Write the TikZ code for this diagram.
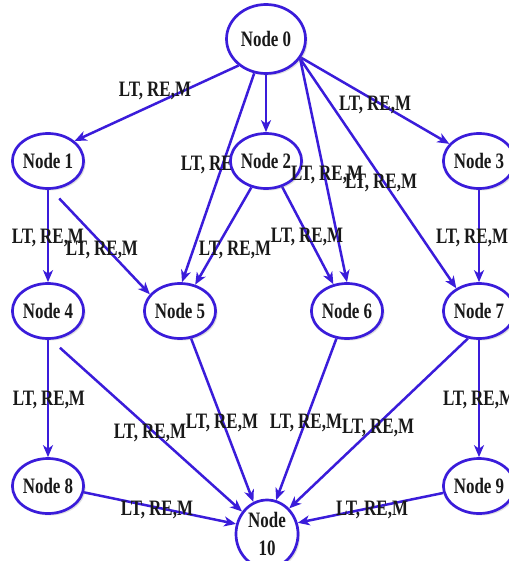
\documentclass[tikz,border=0pt]{standalone}
\usepackage{fontspec}
\setmainfont{Liberation Serif}
\usetikzlibrary{arrows.meta,shapes.geometric,shadows}
\definecolor{edgeblue}{RGB}{58,28,218}
\pgfdeclarelayer{bg}
\pgfdeclarelayer{mid}
\pgfsetlayers{bg,mid,main}
\newcommand\tx[1]{\scalebox{0.77}[1]{#1}}
\begin{document}
\begin{tikzpicture}[x=1pt,y=-1pt,
  gnode/.style={ellipse, draw=edgeblue, line width=2.7pt, fill=white,
    minimum width=63pt, minimum height=55pt, inner sep=0pt,
    font=\fontsize{22}{28}\selectfont\bfseries, text=black!90, align=center,
    drop shadow={opacity=0.25, shadow xshift=2pt, shadow yshift=-2pt, fill=gray}},
  conn/.style={draw=edgeblue, line width=2.5pt, -{Stealth[length=12pt,width=10pt,inset=3.5pt]}},
  lab/.style={font=\fontsize{22}{24}\selectfont\bfseries, text=black!90, inner sep=0pt},
]
\useasboundingbox (0,0) rectangle (508,561);
% nodes
\node[gnode, minimum width=79pt, minimum height=69pt] (n0) at (266,39) {\tx{Node 0}};
\node[gnode] (n1) at (48,161) {\tx{Node 1}};
\node[gnode] (n2) at (266,161) {\tx{Node 2}};
\node[gnode] (n3) at (479,161) {\tx{Node 3}};
\node[gnode] (n4) at (48,311) {\tx{Node 4}};
\node[gnode] (n5) at (180,311) {\tx{Node 5}};
\node[gnode] (n6) at (347,311) {\tx{Node 6}};
\node[gnode] (n7) at (479,311) {\tx{Node 7}};
\node[gnode] (n8) at (48,486) {\tx{Node 8}};
\node[gnode] (n9) at (479,486) {\tx{Node 9}};
\node[gnode, minimum width=62pt, minimum height=68pt] (n10) at (267,534) {\tx{Node}\\\tx{10}};
% edges
\begin{pgfonlayer}{bg}
\draw[conn] (n0.224) -- (n1.37);
\draw[conn] (n0.-90) -- (n2.90);
\draw[conn] (n0.-109) -- (n5.86);
\draw[conn] (n0.-30) -- (n6.90);
\draw[conn] (n0.-30) -- (n7.135);
\draw[conn] (n0.-28) -- (n3.150);
\draw[conn] (n1.-90) -- (n4.90);
\draw[conn, shorten <=12pt] (n1.-84) -- (n5.151);
\draw[conn] (n2.-119) -- (n5.60);
\draw[conn] (n2.-58) -- (n6.117);
\draw[conn] (n3.-90) -- (n7.90);
\draw[conn] (n4.-90) -- (n8.90);
\draw[conn, shorten <=12pt] (n4.-84) -- (n10.138);
\draw[conn] (n5.-68) -- (n10.113);
\draw[conn] (n6.-111) -- (n10.75);
\draw[conn] (n7.-112) -- (n10.49);
\draw[conn] (n7.-90) -- (n9.90);
\draw[conn] (n8.-10) -- (n10.162);
\draw[conn] (n9.191) -- (n10.20);
\end{pgfonlayer}
% labels
\begin{pgfonlayer}{mid}
\node[lab] (l05) at (217,165) {\tx{LT, RE,M}};
\end{pgfonlayer}
\node[lab] (l01) at (155,91) {\tx{LT, RE,M}};
\node[lab] (l03) at (375,105) {\tx{LT, RE,M}};
\node[lab] (l06) at (327,175) {\tx{LT, RE,M}};
\node[lab] (l07) at (381,183) {\tx{LT, RE,M}};
\node[lab] (l14) at (48,238) {\tx{LT, RE,M}};
\node[lab] (l15) at (102,250) {\tx{LT, RE,M}};
\node[lab] (l25) at (235,250) {\tx{LT, RE,M}};
\node[lab] (l26) at (307,237) {\tx{LT, RE,M}};
\node[lab] (l37) at (472,238) {\tx{LT, RE,M}};
\node[lab] (l48) at (49,400) {\tx{LT, RE,M}};
\node[lab] (l410) at (150,433) {\tx{LT, RE,M}};
\node[lab] (l510) at (222,423) {\tx{LT, RE,M}};
\node[lab] (l610) at (306,423) {\tx{LT, RE,M}};
\node[lab] (l710) at (378,428) {\tx{LT, RE,M}};
\node[lab] (l79) at (479,400) {\tx{LT, RE,M}};
\node[lab] (l810) at (157,510) {\tx{LT, RE,M}};
\node[lab] (l910) at (372,510) {\tx{LT, RE,M}};
\end{tikzpicture}
\end{document}
